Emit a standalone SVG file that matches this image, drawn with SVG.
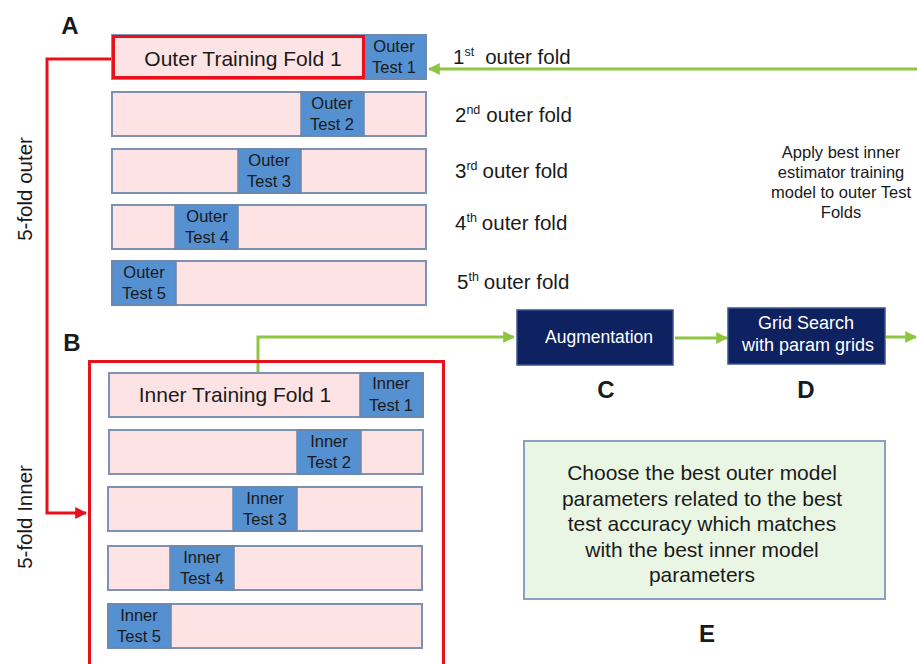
<svg xmlns="http://www.w3.org/2000/svg" width="917" height="664" viewBox="0 0 917 664">
<defs>
<style>
text{font-family:"Liberation Sans",Arial,sans-serif;fill:#1a1a1a}
.row{fill:#fde3e3;stroke:#7d92b0;stroke-width:2}
.tst{fill:#5590d0;stroke:#6d86a8;stroke-width:1.5}
.tl{font-size:16.5px;text-anchor:middle}
.big{font-size:21px;text-anchor:middle}
.fold{font-size:20.5px}
.sup{font-size:12.5px}
.let{font-size:24px;font-weight:bold;text-anchor:middle}
.nav{fill:#0e2160;stroke:#3a5590;stroke-width:1.5}
.wt{fill:#ffffff;text-anchor:middle}
.g{fill:none;stroke:#8dc641;stroke-width:3}
.r{fill:none;stroke:#e8101a;stroke-width:3}
</style>
<marker id="ga" viewBox="0 0 10 10" refX="9" refY="5" markerWidth="4" markerHeight="4" orient="auto" markerUnits="strokeWidth"><path d="M0,0 L10,5 L0,10 z" fill="#8dc641"/></marker>
<marker id="ra" viewBox="0 0 10 10" refX="9" refY="5" markerWidth="4" markerHeight="4" orient="auto" markerUnits="strokeWidth"><path d="M0,0 L10,5 L0,10 z" fill="#e8101a"/></marker>
</defs>
<rect width="917" height="664" fill="#ffffff"/>

<g id="labels">
<text class="let" x="70" y="34">A</text>
<text class="let" x="72" y="351">B</text>
<text class="let" x="606" y="398">C</text>
<text class="let" x="806" y="398">D</text>
<text class="let" x="707" y="642">E</text>
<text style="font-size:20.5px;text-anchor:middle" transform="translate(32,189) rotate(-90)">5-fold outer</text>
<text style="font-size:20.5px;text-anchor:middle" transform="translate(32,517) rotate(-90)">5-fold Inner</text>
</g>

<g id="connectors">
<path class="r" d="M112,59 H47 V513 H86" marker-end="url(#ra)"/>
<path class="g" d="M917,69 H429" marker-end="url(#ga)"/>
<path class="g" d="M258,373 V337 H514" marker-end="url(#ga)"/>
<path class="g" d="M675,338 H727" marker-end="url(#ga)"/>
<path class="g" d="M886,337 H916" marker-end="url(#ga)"/>
</g>

<g id="outer-fold-1">
<rect class="row" x="112" y="35" width="314" height="44"/>
<rect class="tst" x="365" y="35" width="61" height="44"/>
<rect x="113.5" y="36.5" width="250" height="41" fill="none" stroke="#e8101a" stroke-width="3"/>
<text class="big" x="243" y="66">Outer Training Fold 1</text>
<text class="tl" x="394" y="52">Outer</text>
<text class="tl" x="394" y="73">Test 1</text>
</g>
<g id="outer-fold-2">
<rect class="row" x="112" y="92" width="314" height="44"/>
<rect class="tst" x="301" y="92" width="63" height="44"/>
<text class="tl" x="332" y="109">Outer</text>
<text class="tl" x="332" y="130">Test 2</text>
</g>
<g id="outer-fold-3">
<rect class="row" x="112" y="149" width="314" height="44"/>
<rect class="tst" x="238" y="149" width="63" height="44"/>
<text class="tl" x="269" y="166">Outer</text>
<text class="tl" x="269" y="187">Test 3</text>
</g>
<g id="outer-fold-4">
<rect class="row" x="112" y="205" width="314" height="44"/>
<rect class="tst" x="175" y="205" width="63" height="44"/>
<text class="tl" x="207" y="222">Outer</text>
<text class="tl" x="207" y="243">Test 4</text>
</g>
<g id="outer-fold-5">
<rect class="row" x="112" y="261" width="314" height="44"/>
<rect class="tst" x="112" y="261" width="64" height="44"/>
<text class="tl" x="144" y="278">Outer</text>
<text class="tl" x="144" y="299">Test 5</text>
</g>

<g id="fold-labels">
<text class="fold" x="453" y="64">1<tspan class="sup" dy="-8">st</tspan><tspan dy="8" dx="11">outer fold</tspan></text>
<text class="fold" x="455" y="122">2<tspan class="sup" dy="-8">nd</tspan><tspan dy="8" dx="6">outer fold</tspan></text>
<text class="fold" x="455" y="178">3<tspan class="sup" dy="-8">rd</tspan><tspan dy="8" dx="5">outer fold</tspan></text>
<text class="fold" x="455" y="230">4<tspan class="sup" dy="-8">th</tspan><tspan dy="8" dx="5">outer fold</tspan></text>
<text class="fold" x="457" y="289">5<tspan class="sup" dy="-8">th</tspan><tspan dy="8" dx="5">outer fold</tspan></text>
</g>

<g id="apply-note">
<text style="font-size:16.5px;text-anchor:middle"><tspan x="841" y="158">Apply best inner</tspan><tspan x="841" y="178">estimator training</tspan><tspan x="841" y="198">model to outer Test</tspan><tspan x="841" y="218">Folds</tspan></text>
</g>

<g id="inner-box-B">
<rect x="89.5" y="361.5" width="354" height="320" fill="none" stroke="#e8101a" stroke-width="3"/>
</g>
<g id="inner-fold-1">
<rect class="row" x="109" y="373" width="314" height="44"/>
<rect class="tst" x="360" y="373" width="63" height="44"/>
<text class="big" x="235" y="402">Inner Training Fold 1</text>
<text class="tl" x="391" y="389">Inner</text>
<text class="tl" x="391" y="411">Test 1</text>
</g>
<g id="inner-fold-2">
<rect class="row" x="109" y="430" width="314" height="44"/>
<rect class="tst" x="297" y="430" width="64" height="44"/>
<text class="tl" x="329" y="447">Inner</text>
<text class="tl" x="329" y="468">Test 2</text>
</g>
<g id="inner-fold-3">
<rect class="row" x="108" y="487" width="314" height="44"/>
<rect class="tst" x="233" y="487" width="64" height="44"/>
<text class="tl" x="265" y="504">Inner</text>
<text class="tl" x="265" y="525">Test 3</text>
</g>
<g id="inner-fold-4">
<rect class="row" x="108" y="546" width="314" height="44"/>
<rect class="tst" x="170" y="546" width="64" height="44"/>
<text class="tl" x="202" y="563">Inner</text>
<text class="tl" x="202" y="584">Test 4</text>
</g>
<g id="inner-fold-5">
<rect class="row" x="108" y="604" width="314" height="44"/>
<rect class="tst" x="108" y="604" width="63" height="44"/>
<text class="tl" x="139" y="621">Inner</text>
<text class="tl" x="139" y="642">Test 5</text>
</g>

<g id="augmentation">
<rect class="nav" x="517" y="310" width="156" height="55"/>
<text class="wt" style="font-size:17.5px" x="599" y="343">Augmentation</text>
</g>
<g id="grid-search">
<rect class="nav" x="728" y="308" width="157" height="56"/>
<text class="wt" style="font-size:18px" x="806" y="329">Grid Search</text>
<text class="wt" style="font-size:18px" x="808" y="351">with param grids</text>
</g>

<g id="choose-best">
<rect x="524" y="441" width="361" height="158" fill="#eaf6e4" stroke="#8aa0c0" stroke-width="2"/>
<text style="font-size:21px;text-anchor:middle"><tspan x="702" y="480">Choose the best outer model</tspan><tspan x="702" y="505.5">parameters related to the best</tspan><tspan x="702" y="531">test accuracy which matches</tspan><tspan x="702" y="556.5">with the best inner model</tspan><tspan x="702" y="582">parameters</tspan></text>
</g>
</svg>
